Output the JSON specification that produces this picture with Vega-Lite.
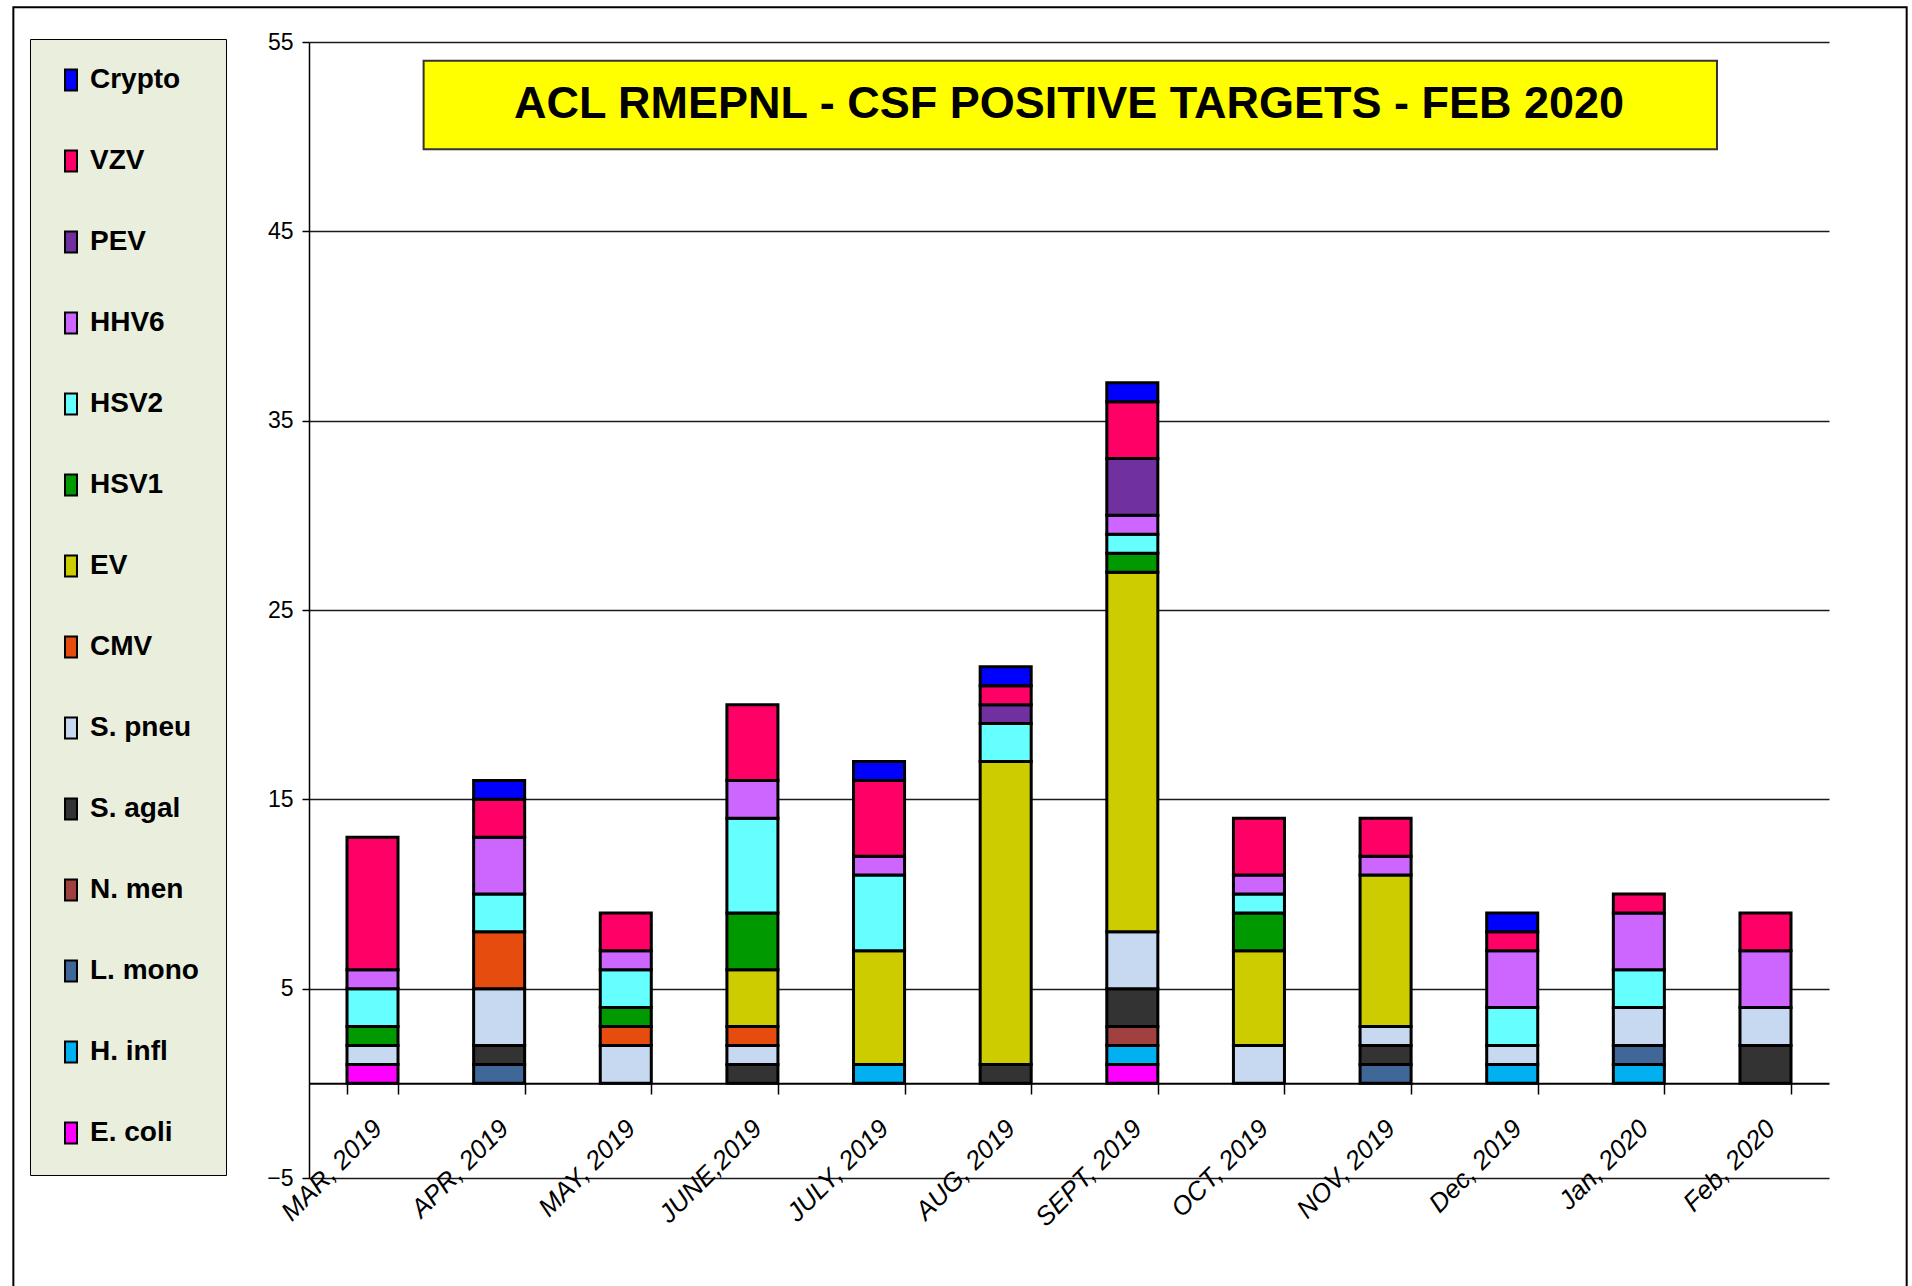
{
  "$schema": "https://vega.github.io/schema/vega-lite/v6.json",
  "width": 1520,
  "height": 1136,
  "autosize": {"type": "none"},
  "padding": {"left": 309, "top": 42, "right": 83, "bottom": 108},
  "background": "white",
  "config": {"view": {"stroke": null}},
  "datasets": {
    "counts": [
      {"month": "MAR, 2019", "target": "E. coli", "count": 1},
      {"month": "MAR, 2019", "target": "S. pneu", "count": 1},
      {"month": "MAR, 2019", "target": "HSV1", "count": 1},
      {"month": "MAR, 2019", "target": "HSV2", "count": 2},
      {"month": "MAR, 2019", "target": "HHV6", "count": 1},
      {"month": "MAR, 2019", "target": "VZV", "count": 7},
      {"month": "APR, 2019", "target": "L. mono", "count": 1},
      {"month": "APR, 2019", "target": "S. agal", "count": 1},
      {"month": "APR, 2019", "target": "S. pneu", "count": 3},
      {"month": "APR, 2019", "target": "CMV", "count": 3},
      {"month": "APR, 2019", "target": "HSV2", "count": 2},
      {"month": "APR, 2019", "target": "HHV6", "count": 3},
      {"month": "APR, 2019", "target": "VZV", "count": 2},
      {"month": "APR, 2019", "target": "Crypto", "count": 1},
      {"month": "MAY, 2019", "target": "S. pneu", "count": 2},
      {"month": "MAY, 2019", "target": "CMV", "count": 1},
      {"month": "MAY, 2019", "target": "HSV1", "count": 1},
      {"month": "MAY, 2019", "target": "HSV2", "count": 2},
      {"month": "MAY, 2019", "target": "HHV6", "count": 1},
      {"month": "MAY, 2019", "target": "VZV", "count": 2},
      {"month": "JUNE,2019", "target": "S. agal", "count": 1},
      {"month": "JUNE,2019", "target": "S. pneu", "count": 1},
      {"month": "JUNE,2019", "target": "CMV", "count": 1},
      {"month": "JUNE,2019", "target": "EV", "count": 3},
      {"month": "JUNE,2019", "target": "HSV1", "count": 3},
      {"month": "JUNE,2019", "target": "HSV2", "count": 5},
      {"month": "JUNE,2019", "target": "HHV6", "count": 2},
      {"month": "JUNE,2019", "target": "VZV", "count": 4},
      {"month": "JULY, 2019", "target": "H. infl", "count": 1},
      {"month": "JULY, 2019", "target": "EV", "count": 6},
      {"month": "JULY, 2019", "target": "HSV2", "count": 4},
      {"month": "JULY, 2019", "target": "HHV6", "count": 1},
      {"month": "JULY, 2019", "target": "VZV", "count": 4},
      {"month": "JULY, 2019", "target": "Crypto", "count": 1},
      {"month": "AUG, 2019", "target": "S. agal", "count": 1},
      {"month": "AUG, 2019", "target": "EV", "count": 16},
      {"month": "AUG, 2019", "target": "HSV2", "count": 2},
      {"month": "AUG, 2019", "target": "PEV", "count": 1},
      {"month": "AUG, 2019", "target": "VZV", "count": 1},
      {"month": "AUG, 2019", "target": "Crypto", "count": 1},
      {"month": "SEPT, 2019", "target": "E. coli", "count": 1},
      {"month": "SEPT, 2019", "target": "H. infl", "count": 1},
      {"month": "SEPT, 2019", "target": "N. men", "count": 1},
      {"month": "SEPT, 2019", "target": "S. agal", "count": 2},
      {"month": "SEPT, 2019", "target": "S. pneu", "count": 3},
      {"month": "SEPT, 2019", "target": "EV", "count": 19},
      {"month": "SEPT, 2019", "target": "HSV1", "count": 1},
      {"month": "SEPT, 2019", "target": "HSV2", "count": 1},
      {"month": "SEPT, 2019", "target": "HHV6", "count": 1},
      {"month": "SEPT, 2019", "target": "PEV", "count": 3},
      {"month": "SEPT, 2019", "target": "VZV", "count": 3},
      {"month": "SEPT, 2019", "target": "Crypto", "count": 1},
      {"month": "OCT, 2019", "target": "S. pneu", "count": 2},
      {"month": "OCT, 2019", "target": "EV", "count": 5},
      {"month": "OCT, 2019", "target": "HSV1", "count": 2},
      {"month": "OCT, 2019", "target": "HSV2", "count": 1},
      {"month": "OCT, 2019", "target": "HHV6", "count": 1},
      {"month": "OCT, 2019", "target": "VZV", "count": 3},
      {"month": "NOV, 2019", "target": "L. mono", "count": 1},
      {"month": "NOV, 2019", "target": "S. agal", "count": 1},
      {"month": "NOV, 2019", "target": "S. pneu", "count": 1},
      {"month": "NOV, 2019", "target": "EV", "count": 8},
      {"month": "NOV, 2019", "target": "HHV6", "count": 1},
      {"month": "NOV, 2019", "target": "VZV", "count": 2},
      {"month": "Dec, 2019", "target": "H. infl", "count": 1},
      {"month": "Dec, 2019", "target": "S. pneu", "count": 1},
      {"month": "Dec, 2019", "target": "HSV2", "count": 2},
      {"month": "Dec, 2019", "target": "HHV6", "count": 3},
      {"month": "Dec, 2019", "target": "VZV", "count": 1},
      {"month": "Dec, 2019", "target": "Crypto", "count": 1},
      {"month": "Jan, 2020", "target": "H. infl", "count": 1},
      {"month": "Jan, 2020", "target": "L. mono", "count": 1},
      {"month": "Jan, 2020", "target": "S. pneu", "count": 2},
      {"month": "Jan, 2020", "target": "HSV2", "count": 2},
      {"month": "Jan, 2020", "target": "HHV6", "count": 3},
      {"month": "Jan, 2020", "target": "VZV", "count": 1},
      {"month": "Feb, 2020", "target": "S. agal", "count": 2},
      {"month": "Feb, 2020", "target": "S. pneu", "count": 2},
      {"month": "Feb, 2020", "target": "HHV6", "count": 3},
      {"month": "Feb, 2020", "target": "VZV", "count": 2}
    ],
    "panel": [
      {"target": "E. coli", "panel_order": 1},
      {"target": "H. infl", "panel_order": 2},
      {"target": "L. mono", "panel_order": 3},
      {"target": "N. men", "panel_order": 4},
      {"target": "S. agal", "panel_order": 5},
      {"target": "S. pneu", "panel_order": 6},
      {"target": "CMV", "panel_order": 7},
      {"target": "EV", "panel_order": 8},
      {"target": "HSV1", "panel_order": 9},
      {"target": "HSV2", "panel_order": 10},
      {"target": "HHV6", "panel_order": 11},
      {"target": "PEV", "panel_order": 12},
      {"target": "VZV", "panel_order": 13},
      {"target": "Crypto", "panel_order": 14}
    ],
    "heading": [{"label": "ACL RMEPNL - CSF POSITIVE TARGETS - FEB 2020"}]
  },
  "layer": [
    {
      "data": {"name": "heading"},
      "mark": {"type": "rect", "fill": "transparent", "stroke": "black", "strokeWidth": 2, "clip": false},
      "encoding": {
        "x": {"datum": -0.1945, "type": "quantitative", "scale": {"domain": [0, 1], "nice": false, "zero": false}, "axis": null},
        "x2": {"datum": 1.0511},
        "y": {"datum": 56.83, "type": "quantitative"},
        "y2": {"datum": -13}
      }
    },
    {
      "data": {"name": "counts"},
      "transform": [
        {"lookup": "target", "from": {"data": {"name": "panel"}, "key": "target", "fields": ["panel_order"]}}
      ],
      "mark": {"type": "bar", "stroke": "black", "strokeWidth": 3},
      "encoding": {
        "x": {
          "field": "month", "type": "nominal",
          "sort": ["MAR, 2019", "APR, 2019", "MAY, 2019", "JUNE,2019", "JULY, 2019", "AUG, 2019", "SEPT, 2019", "OCT, 2019", "NOV, 2019", "Dec, 2019", "Jan, 2020", "Feb, 2020"],
          "scale": {"paddingInner": 0.597, "paddingOuter": 0.3},
          "axis": {
            "title": null, "offset": -94.67, "domainColor": "black", "domainWidth": 2,
            "tickColor": "black", "tickWidth": 1.5, "tickSize": 10.7, "tickBand": "extent",
            "labelAngle": -45, "labelAlign": "right", "labelBaseline": "middle",
            "labelFont": "Liberation Sans", "labelFontStyle": "italic", "labelFontSize": 26,
            "labelColor": "black", "labelOffset": 5, "labelPadding": 30, "labelOverlap": false, "labelLimit": 0,
            "grid": false
          }
        },
        "y": {
          "field": "count", "type": "quantitative", "stack": "zero",
          "scale": {"domain": [-5, 55], "nice": false, "zero": false},
          "axis": {
            "title": null, "values": [-5, 5, 15, 25, 35, 45, 55],
            "grid": true, "gridColor": "#1a1a1a", "gridWidth": 1.5, "gridOpacity": 1,
            "domainColor": "black", "domainWidth": 1.5,
            "tickColor": "black", "tickWidth": 1.5, "tickSize": 7,
            "labelFont": "Liberation Sans", "labelFontSize": 23, "labelColor": "black", "labelPadding": 9
          }
        },
        "color": {
          "field": "target", "type": "nominal",
          "sort": ["Crypto", "VZV", "PEV", "HHV6", "HSV2", "HSV1", "EV", "CMV", "S. pneu", "S. agal", "N. men", "L. mono", "H. infl", "E. coli"],
          "scale": {
            "domain": ["Crypto", "VZV", "PEV", "HHV6", "HSV2", "HSV1", "EV", "CMV", "S. pneu", "S. agal", "N. men", "L. mono", "H. infl", "E. coli"],
            "range": ["#0000FF", "#FF0066", "#7030A0", "#CC66FF", "#66FFFF", "#009900", "#CCCC00", "#E64C0D", "#C6D9F1", "#333333", "#A04040", "#3F6898", "#00B0F0", "#FF00FF"]
          },
          "legend": {
            "title": null, "orient": "none", "legendX": -279, "legendY": -3,
            "fillColor": "#EAEEDD", "strokeColor": "black", "padding": 27,
            "symbolType": "M-0.57,-1H0.57V1H-0.57Z", "symbolSize": 441, "symbolStrokeColor": "black", "symbolStrokeWidth": 2,
            "labelOffset": 5,
            "labelFont": "Liberation Sans", "labelFontWeight": "bold", "labelFontSize": 28, "labelColor": "black",
            "rowPadding": 51, "labelLimit": 0
          }
        },
        "order": {"field": "panel_order", "type": "quantitative", "sort": "ascending"}
      }
    },
    {
      "data": {"name": "heading"},
      "mark": {"type": "rect", "fill": "#FFFF00", "stroke": "#333333", "strokeWidth": 2},
      "encoding": {
        "x": {"datum": 0.0754, "type": "quantitative", "scale": {"domain": [0, 1], "nice": false, "zero": false}, "axis": null},
        "x2": {"datum": 0.9263},
        "y": {"datum": 54.01, "type": "quantitative"},
        "y2": {"datum": 49.33}
      }
    },
    {
      "data": {"name": "heading"},
      "mark": {"type": "text", "font": "Liberation Sans", "fontWeight": "bold", "fontSize": 45, "color": "black", "align": "center", "baseline": "middle"},
      "encoding": {
        "x": {"datum": 0.5, "type": "quantitative", "scale": {"domain": [0, 1], "nice": false, "zero": false}, "axis": null},
        "y": {"datum": 51.72, "type": "quantitative"},
        "text": {"field": "label"}
      }
    }
  ],
  "resolve": {"scale": {"x": "independent"}}
}
